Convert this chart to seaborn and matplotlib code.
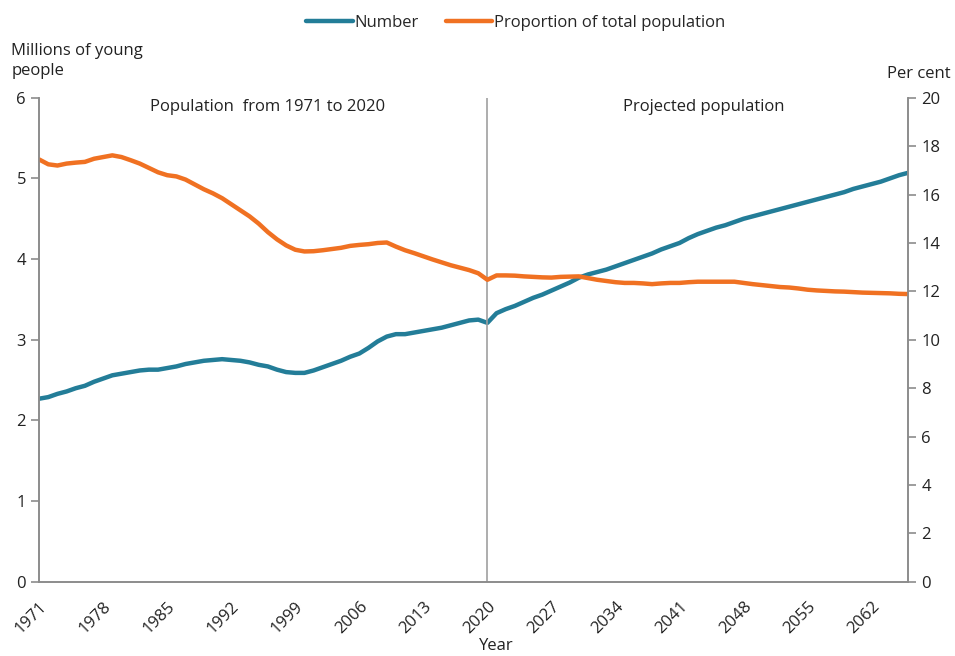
import numpy as np
import pandas as pd
import matplotlib.pyplot as plt
import seaborn as sns

# Young people: number (millions) and share of total population (%)

years = list(range(1971, 2067))

number = [
    2.27, 2.29, 2.33, 2.36, 2.40, 2.43, 2.48, 2.52, 2.56, 2.58,
    2.60, 2.62, 2.63, 2.63, 2.65, 2.67, 2.70, 2.72, 2.74, 2.75,
    2.76, 2.75, 2.74, 2.72, 2.69, 2.67, 2.63, 2.60, 2.59, 2.59,
    2.62, 2.66, 2.70, 2.74, 2.79, 2.83, 2.90, 2.98, 3.04, 3.07,
    3.07, 3.09, 3.11, 3.13, 3.15, 3.18, 3.21, 3.24, 3.25, 3.21,
    3.33, 3.38, 3.42, 3.47, 3.52, 3.56, 3.61, 3.66, 3.71, 3.77,
    3.81, 3.84, 3.87, 3.91, 3.95, 3.99, 4.03, 4.07, 4.12, 4.16,
    4.20, 4.26, 4.31, 4.35, 4.39, 4.42, 4.46, 4.50, 4.53, 4.56,
    4.59, 4.62, 4.65, 4.68, 4.71, 4.74, 4.77, 4.80, 4.83, 4.87,
    4.90, 4.93, 4.96, 5.00, 5.04, 5.07,
]

proportion = [
    17.45, 17.25, 17.20, 17.28, 17.32, 17.35, 17.48, 17.55, 17.62, 17.55,
    17.42, 17.28, 17.10, 16.92, 16.80, 16.75, 16.62, 16.42, 16.22, 16.05,
    15.85, 15.60, 15.35, 15.10, 14.80, 14.45, 14.15, 13.90, 13.72, 13.65,
    13.66, 13.70, 13.75, 13.80, 13.88, 13.92, 13.95, 14.00, 14.02, 13.85,
    13.70, 13.58, 13.45, 13.32, 13.20, 13.08, 12.98, 12.88, 12.75, 12.48,
    12.66, 12.66, 12.65, 12.62, 12.60, 12.58, 12.57, 12.60, 12.61, 12.62,
    12.55, 12.48, 12.43, 12.38, 12.35, 12.35, 12.33, 12.30, 12.33, 12.35,
    12.35, 12.38, 12.40, 12.40, 12.40, 12.40, 12.40, 12.35, 12.30, 12.26,
    12.22, 12.18, 12.16, 12.12, 12.07, 12.04, 12.02, 12.00, 11.99, 11.97,
    11.95, 11.94, 11.93, 11.92, 11.90, 11.89,
]

xticks = list(range(1971, 2063, 7))

df = pd.DataFrame({"Year": years, "Number": number, "Proportion": proportion})

sns.set_style("white")
plt.rcParams["font.family"] = ["Open Sans", "DejaVu Sans"]

blue = "#237d98"
orange = "#f07122"
grey = "#8c8c8c"
fs = 12

fig = plt.figure(figsize=(9.55, 6.56), dpi=100)
ax = fig.add_axes([0.041, 0.113, 0.910, 0.738])
ax2 = ax.twinx()

sns.lineplot(data=df, x="Year", y="Number", ax=ax, color=blue, linewidth=3.2,
             label="Number", legend=False)
sns.lineplot(data=df, x="Year", y="Proportion", ax=ax2, color=orange, linewidth=3.2,
             label="Proportion of total population", legend=False)

ax.set_xlim(1971, 2066)
ax.set_ylim(0, 6)
ax2.set_ylim(0, 20)
ax.set_yticks(range(0, 7))
ax2.set_yticks(range(0, 21, 2))
ax.set_xticks(xticks)
ax.set_xticklabels([str(x) for x in xticks], rotation=45, ha="right",
                   rotation_mode="anchor")

for a in (ax, ax2):
    for s in a.spines.values():
        s.set_color(grey)
        s.set_linewidth(1.2)
    a.spines["top"].set_visible(False)
    a.tick_params(colors=grey, labelcolor="#222222", labelsize=fs,
                  length=6, width=1.2)
    a.set_ylabel("")

ax.tick_params(axis="x", length=6, pad=6)
ax.set_xlabel("")
fig.text(0.52, 0.003, "Year", ha="center", va="bottom", fontsize=fs, color="#222222")

# divider between observed and projected
ax.axvline(2020, color="#a0a0a0", linewidth=1.2)
ax.text(1996.0, 5.88, "Population  from 1971 to 2020", ha="center", va="center",
        fontsize=fs, color="#222222")
ax.text(2043.7, 5.88, "Projected population", ha="center", va="center",
        fontsize=fs, color="#222222")

fig.text(0.012, 0.880, "Millions of young\npeople", ha="left", va="bottom",
         fontsize=fs, color="#222222", linespacing=1.35)
fig.text(0.995, 0.875, "Per cent", ha="right", va="bottom",
         fontsize=fs, color="#222222")

h1, l1 = ax.get_legend_handles_labels()
h2, l2 = ax2.get_legend_handles_labels()
fig.legend(h1 + h2, l1 + l2, loc="upper center", bbox_to_anchor=(0.54, 1.0),
           ncol=2, frameon=False, fontsize=fs, handlelength=2.8,
           handletextpad=0.1, columnspacing=1.6)

plt.savefig("out.png", dpi=100)
